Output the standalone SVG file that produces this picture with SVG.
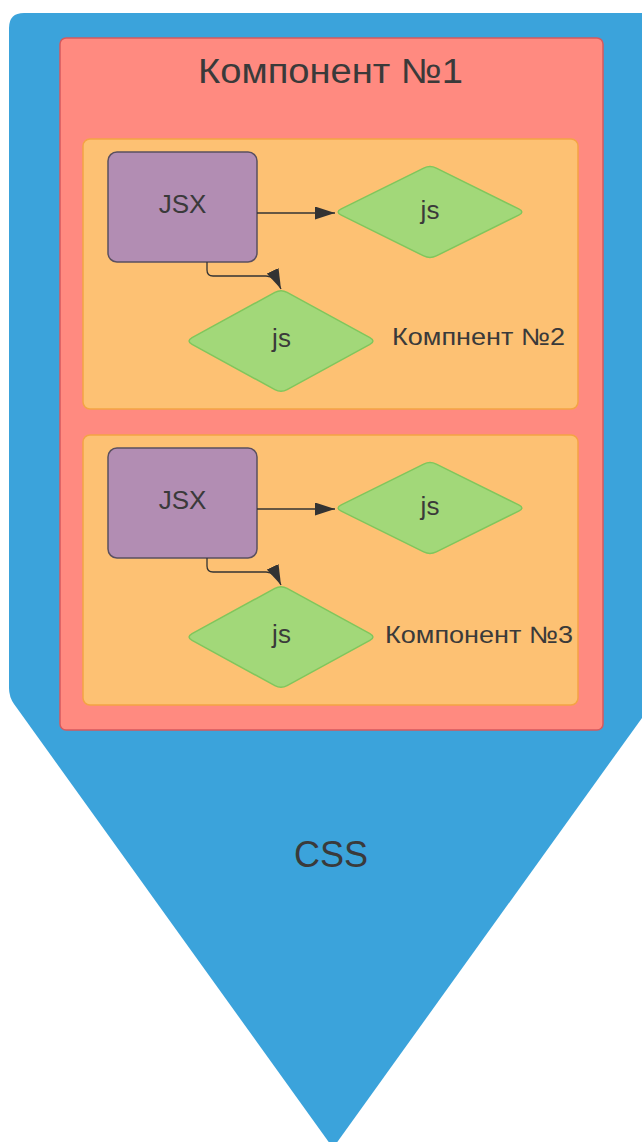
<svg xmlns="http://www.w3.org/2000/svg" width="642" height="1142" viewBox="0 0 642 1142">
  <style>
    .lbl { font-family: "Liberation Sans", Arial, sans-serif; fill: #3a3a3a; }
    .outer { fill: #3BA3DB; }
    .comp1 { fill: #FF8A80; stroke: #D65A5E; stroke-width: 1.5; }
    .comp { fill: #FDC173; stroke: #F4A444; stroke-width: 1.5; }
    .jsx { fill: #B28DB3; stroke: #5A5060; stroke-width: 1.5; }
    .js { fill: #A2D879; stroke: #80C65C; stroke-width: 1.5; }
    .edge { fill: none; stroke: #333333; stroke-width: 1.3; }
  </style>
  <defs>
    <marker id="arrow" markerUnits="userSpaceOnUse" markerWidth="20" markerHeight="13" refX="20" refY="6.5" orient="auto">
      <path d="M0,0 L20,6.5 L0,13 Z" fill="#333333"/>
    </marker>
    <!-- rounded diamonds, centred on the origin -->
    <path id="dia-s" d="M-88.7,-3.1 L-6.3,-43.9 Q0,-47 6.3,-43.9 L88.7,-3.1 Q95,0 88.7,3.1 L6.3,43.9 Q0,47 -6.3,43.9 L-88.7,3.1 Q-95,0 -88.7,-3.1 Z"/>
    <path id="dia-t" d="M-88.9,-3.4 L-6.1,-48.6 Q0,-52 6.1,-48.6 L88.9,-3.4 Q95,0 88.9,3.4 L6.1,48.6 Q0,52 -6.1,48.6 L-88.9,3.4 Q-95,0 -88.9,-3.4 Z"/>
  </defs>

  <!-- CSS: pentagon-shaped container -->
  <g id="css">
    <path class="outer" d="M9,28 Q9,13 24,13 H657 V697 L333,1148 L14.2,704.3 Q9,697 9,688 Z"/>
    <text class="lbl" x="331" y="867" font-size="36" text-anchor="middle">CSS</text>
  </g>

  <!-- Component 1 -->
  <g id="component1">
    <rect class="comp1" x="60" y="38" width="543" height="692" rx="6"/>
    <text class="lbl" x="198" y="83" font-size="35" textLength="265" lengthAdjust="spacingAndGlyphs">Компонент №1</text>
  </g>

  <!-- Component 2 -->
  <g id="component2">
    <rect class="comp" x="83" y="139" width="495" height="270" rx="7"/>
    <text class="lbl" x="392" y="345" font-size="23.5" textLength="173" lengthAdjust="spacingAndGlyphs">Компнент №2</text>
  </g>
  <g id="jsx2">
    <rect class="jsx" x="108" y="152" width="149" height="110" rx="9"/>
    <text class="lbl" x="182.5" y="213" font-size="26" text-anchor="middle">JSX</text>
  </g>
  <g id="js2a">
    <use href="#dia-s" class="js" x="430" y="212"/>
    <text class="lbl" x="430" y="219" font-size="26" text-anchor="middle">js</text>
  </g>
  <g id="js2b">
    <use href="#dia-t" class="js" x="281" y="341"/>
    <text class="lbl" x="281.5" y="347" font-size="26" text-anchor="middle">js</text>
  </g>

  <!-- Component 3 -->
  <g id="component3">
    <rect class="comp" x="83" y="435" width="495" height="270" rx="7"/>
    <text class="lbl" x="385" y="643" font-size="23.5" textLength="188" lengthAdjust="spacingAndGlyphs">Компонент №3</text>
  </g>
  <g id="jsx3">
    <rect class="jsx" x="108" y="448" width="149" height="110" rx="9"/>
    <text class="lbl" x="182.5" y="509" font-size="26" text-anchor="middle">JSX</text>
  </g>
  <g id="js3a">
    <use href="#dia-s" class="js" x="430" y="508"/>
    <text class="lbl" x="430" y="515" font-size="26" text-anchor="middle">js</text>
  </g>
  <g id="js3b">
    <use href="#dia-t" class="js" x="281" y="637"/>
    <text class="lbl" x="281.5" y="643" font-size="26" text-anchor="middle">js</text>
  </g>

  <!-- Connectors -->
  <g id="connectors">
    <path class="edge" d="M257,213 H335" marker-end="url(#arrow)"/>
    <path class="edge" d="M207,262 V270 Q207,276 213,276 L266,276 Q275,276 281,289" marker-end="url(#arrow)"/>
    <path class="edge" d="M257,509 H335" marker-end="url(#arrow)"/>
    <path class="edge" d="M207,558 V566 Q207,572 213,572 L266,572 Q275,572 281,585" marker-end="url(#arrow)"/>
  </g>
</svg>
